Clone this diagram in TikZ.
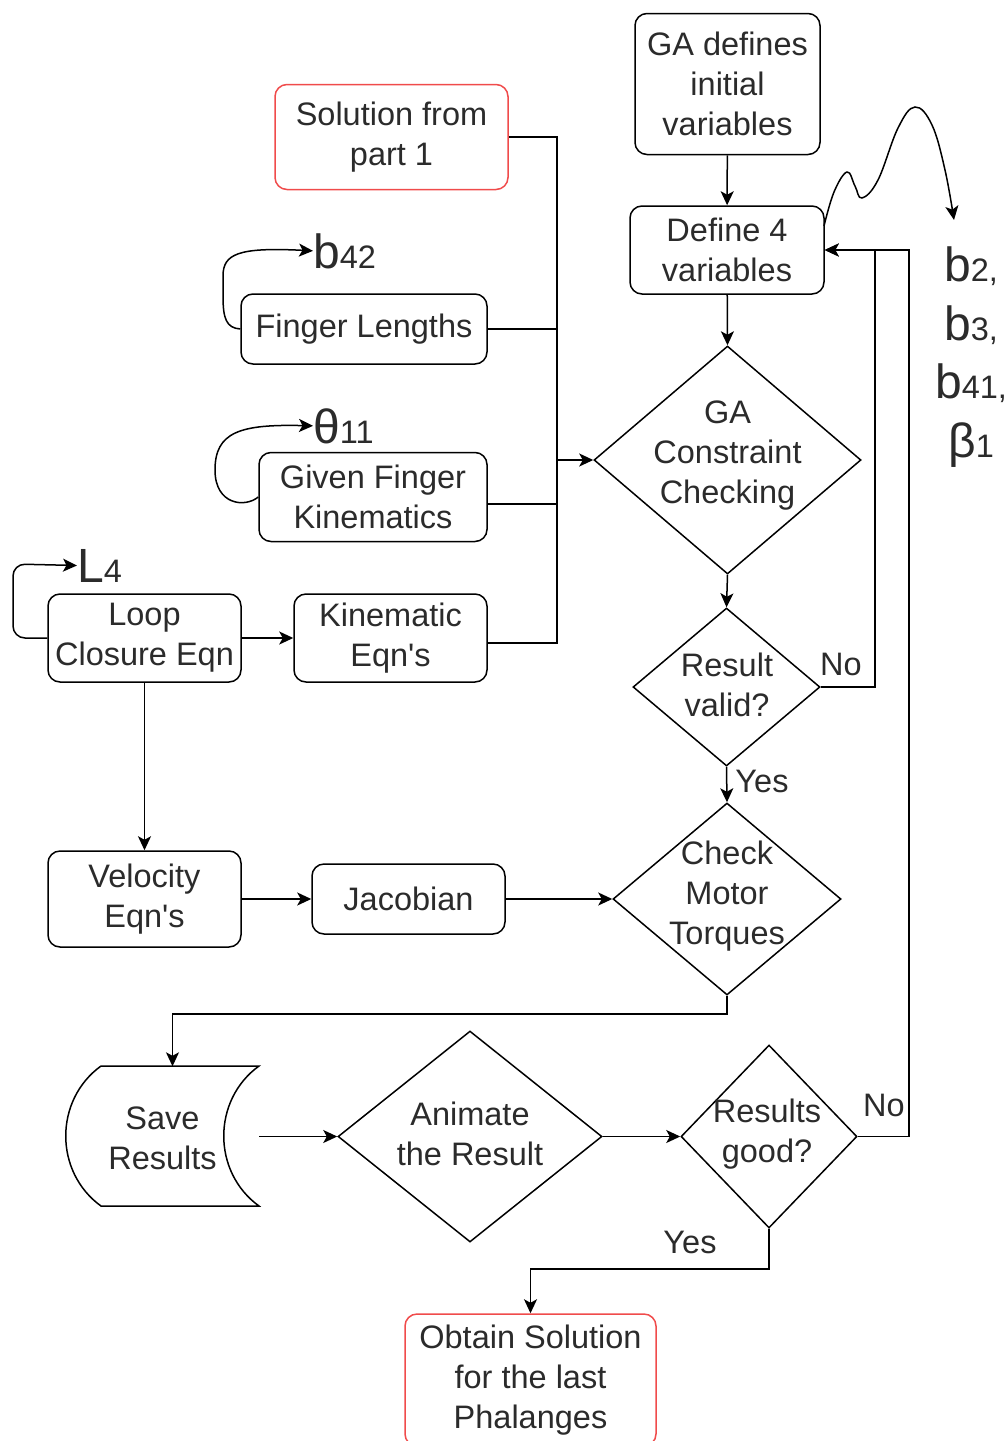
\documentclass[tikz,border=0pt]{standalone}
\usepackage{fontspec}
\setmainfont{Liberation Sans}[Ligatures=TeXOff]
\usetikzlibrary{arrows.meta,shapes.geometric}
\definecolor{txt}{HTML}{2B2B2B}
\definecolor{redline}{HTML}{F04B4B}
\begin{document}
\begin{tikzpicture}[x=1pt,y=-1pt,
  every node/.style={font=\fontsize{32.5}{40}\selectfont, text=txt, align=center, inner sep=0pt},
  box/.style={draw=black, line width=1.5pt, rounded corners=12pt, rectangle},
  redbox/.style={box, draw=redline},
  decision/.style={draw=black, line width=1.5pt, diamond, inner sep=0pt},
  line/.style={draw=black, line width=1.5pt},
  arr/.style={line, -{Stealth[length=14pt,width=13pt,inset=3.5pt]}},
  big/.style={font=\fontsize{48}{58}\selectfont},
  lbl/.style={font=\fontsize{32.5}{40}\selectfont}
]
\useasboundingbox (0,0) rectangle (1008,1441);

% process boxes
\node[box, minimum width=185pt, minimum height=141pt] (ga) at (727.5,84) {GA defines\\initial\\variables};
\node[redbox, minimum width=233pt, minimum height=105pt] (sol) at (391.5,137) {Solution from\\part 1};
\node[box, minimum width=194pt, minimum height=88pt] (dv) at (727,250) {Define 4\\variables};
\node[box, minimum width=246pt, minimum height=70pt] (fl) at (364,329) {Finger Lengths};
\node[box, minimum width=228pt, minimum height=89pt] (gk) at (373,497) {Given Finger\\Kinematics};
\node[box, minimum width=193pt, minimum height=88pt] (lc) at (144.5,638) {Loop\\Closure Eqn};
\node[box, minimum width=193pt, minimum height=88pt] (ke) at (390.5,638) {Kinematic\\Eqn's};
\node[box, minimum width=193pt, minimum height=96pt] (ve) at (144.5,899) {Velocity\\Eqn's};
\node[box, minimum width=193pt, minimum height=70pt] (jb) at (408.5,899) {Jacobian};
\node[redbox, minimum width=251pt, minimum height=132pt] (ob) at (530.5,1380) {Obtain Solution\\for the last\\Phalanges};

% decisions
\node[decision, minimum width=267pt, minimum height=228pt] (gc) at (727.5,460) {};
\node (gct) at (727.5,456) {GA\\Constraint\\Checking};
\node[decision, minimum width=187pt, minimum height=158pt] (rv) at (726.5,687) {};
\node (rvt) at (727,685) {Result\\valid?};
\node[decision, minimum width=228pt, minimum height=192pt] (cm) at (727,899) {};
\node (cmt) at (727,896) {Check\\Motor\\Torques};
\node[decision, minimum width=264pt, minimum height=211pt] (an) at (470,1136.5) {};
\node (ant) at (470,1134) {Animate\\the Result};
\node[decision, minimum width=176pt, minimum height=183pt] (rg) at (769,1136.5) {};
\node (rgt) at (767,1134) {Results\\good?};

% stored data shape
\node[minimum width=193pt, minimum height=140pt] (sr) at (162.5,1136.5) {};
\node (srt) at (162.5,1138) {Save\\Results};
\draw[line] (101,1066) -- (259,1066)
  .. controls (212,1100) and (212,1172) .. (259,1206)
  -- (101,1206)
  .. controls (54,1172) and (54,1100) .. (101,1066);

% variable labels
\node[big, anchor=base west] (b42) at (313,268) {b{\fontsize{32.5}{40}\selectfont 42}};
\node[big, anchor=base west] (t11) at (313,443) {θ{\fontsize{32.5}{40}\selectfont 11}};
\node[big, anchor=base west] (l4) at (77,582) {L{\fontsize{32.5}{40}\selectfont 4}};
\node[big, anchor=north, font=\fontsize{48}{58.5}\selectfont] (vars) at (971,247)
  {b{\fontsize{32.5}{40}\selectfont 2,}\\b{\fontsize{32.5}{40}\selectfont 3,}\\b{\fontsize{32.5}{40}\selectfont 41,}\\β{\fontsize{32.5}{40}\selectfont 1}};

% edge labels
\node[lbl] (no1) at (841,664) {No};
\node[lbl] (yes1) at (762,781) {Yes};
\node[lbl] (no2) at (884,1105) {No};
\node[lbl] (yes2) at (690,1242) {Yes};

% collecting bus into the constraint check
\coordinate (bus) at (557,460);
\draw[line] (sol.east) -| (bus);
\draw[line] (ke.east) ++(0,5) -| (bus);
\draw[line] (fl.east) -- (fl.east -| bus);
\draw[line] ([yshift=-7pt]gk.east) -- ([yshift=-7pt]gk.east -| bus);
\draw[arr] (bus) -- (gc.west);

% main flow
\draw[arr] (ga) -- (dv);
\draw[arr] (dv) -- (gc.north);
\draw[arr] (gc.south) -- (rv.north);
\draw[arr] (rv.south) -- (cm.north);
\draw[arr] (lc) -- (ke);
\draw[arr] (lc) -- (ve);
\draw[arr] (ve) -- (jb);
\draw[arr] (jb) -- (cm.west);
\draw[arr] (cm.south) -- ++(0,18) -| ([xshift=10pt]sr.north);
\draw[arr] (sr.east) -- (an.west);
\draw[arr] (an.east) -- (rg.west);
\draw[arr] (rg.south) -- ++(0,40) -| (ob.north);

% feedback loops
\coordinate (n1) at (875,0);
\coordinate (n2) at (909,0);
\draw[arr] (rv.east) -| (n1 |- dv.east) -- (dv.east);
\draw[arr] (rg.east) -| (n2 |- dv.east) -- (dv.east);

% variable arrows
\draw[arr] (fl.west) .. controls (226,328) and (223,318) .. (223,296)
  -- (223,276) .. controls (223,254) and (238,247) .. (b42.west);
\draw[arr] (gk.west) .. controls (245,508) and (215,505) .. (215,470)
  .. controls (215,432) and (240,424) .. (t11.west);
\draw[arr, rounded corners=12pt] (lc.west) -- (13,638) -- (13,564) -- (l4.west);
\draw[arr] plot[smooth, tension=0.65] coordinates
  {(824,226) (834,192) (847,172) (855,186) (862,198) (878,180) (898,128) (915,107) (932,125) (945,170) (954,220)};
\end{tikzpicture}
\end{document}
